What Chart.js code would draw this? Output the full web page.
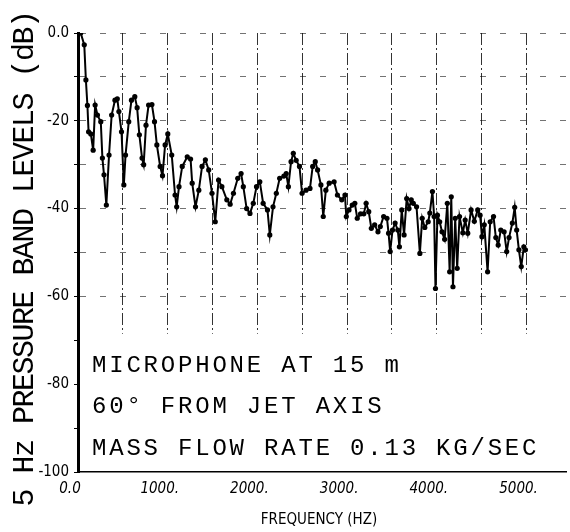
<!DOCTYPE html>
<html>
<head>
<meta charset="utf-8">
<script src="https://cdn.jsdelivr.net/npm/chart.js@4.4.1/dist/chart.umd.min.js"></script>
<style>
    html, body { margin: 0; padding: 0; background: #fff; }
    #wrap { width: 570px; height: 532px; }
</style>
</head>
<body>
<div id="wrap"><canvas id="spectrum"></canvas></div>
<script>
// 5 Hz band levels (frequency in Hz, level in dB)
const freqHz = [
    30, 70, 88, 105, 118, 143, 169, 191, 217, 254, 272, 290, 316, 346, 375, 412, 438, 456, 485, 511,
    530, 566, 596, 633, 659, 684, 714, 732, 758, 787, 824, 853, 879, 916, 942, 971, 1001, 1045, 1082, 1100,
    1126, 1162, 1218, 1255, 1273, 1310, 1347, 1383, 1420, 1457, 1494, 1530, 1567, 1604, 1659, 1696, 1733, 1781, 1818, 1843,
    1880, 1917, 1954, 1990, 2027, 2064, 2112, 2138, 2174, 2211, 2248, 2295, 2321, 2345, 2375, 2400, 2432, 2469, 2498, 2542,
    2586, 2616, 2645, 2671, 2708, 2734, 2763, 2800, 2855, 2892, 2940, 2976, 2991, 3021, 3057, 3086, 3113, 3150, 3186, 3212,
    3241, 3270, 3307, 3344, 3370, 3407, 3444, 3462, 3480, 3506, 3535, 3565, 3583, 3609, 3635, 3664, 3690, 3715, 3738, 3774,
    3811, 3837, 3866, 3904, 3922, 3951, 3970, 3985, 4007, 4032, 4058, 4087, 4117, 4143, 4161, 4180, 4205, 4227, 4253, 4290,
    4316, 4345, 4382, 4418, 4456, 4482, 4503, 4529, 4566, 4595, 4632, 4658, 4684, 4713, 4750, 4779, 4805, 4842, 4868, 4890,
    4915, 4941, 4970, 4988
];
const levelDb = [
    0, -2.7, -10.7, -16.5, -22.5, -23, -26.7, -16.4, -18.7, -20.2, -28.5, -32.3, -39.2, -27.8, -18.7, -15.3, -15, -17.9, -22.5, -34.6,
    -27.8, -20.2, -15.3, -14.5, -17, -23.2, -28.5, -30, -21, -16.4, -16.3, -20.2, -25.5, -30.4, -32.5, -25.5, -23, -27.8, -36.9, -39.6,
    -35, -30.4, -28.2, -28.7, -34.2, -39.6, -35.8, -30.4, -28.9, -31.2, -36.5, -43, -33.5, -35, -38, -39, -36.5, -33.1, -32, -35,
    -40, -41.1, -38.8, -35, -33.9, -38.8, -40.3, -46, -39.6, -36.5, -33.1, -32.6, -32, -35, -29.3, -27.4, -29, -30.4, -36.5, -35.8,
    -35.4, -30.4, -29.3, -31.2, -34.6, -41.8, -35.8, -34.2, -33.9, -36.9, -38, -36.9, -41.8, -40.3, -39.2, -38.8, -42.2, -41.2, -41.2, -38.8,
    -40.7, -44.5, -43.7, -45.3, -44.1, -41.8, -42.2, -45.6, -49.8, -44.9, -43.3, -44.9, -48.7, -40.3, -46, -37.7, -40, -38, -38.8, -39.6,
    -50.2, -42.2, -44.3, -43, -41, -36.1, -41.8, -58.2, -41.5, -43, -45.3, -47, -38.8, -54.4, -37.3, -57.8, -42.2, -53.6, -41.8, -45.5,
    -42.6, -45.6, -40.3, -42.9, -40.3, -41.5, -46.4, -43.7, -54.4, -43, -41.8, -46.6, -48.3, -44.9, -45.3, -49.8, -46.6, -43.3, -39.7, -44.9,
    -49.4, -53.2, -48.7, -49.4
];

// axes
const freqTicks = [0, 500, 1000, 1500, 2000, 2500, 3000, 3500, 4000, 4500, 5000];
const freqLabels = { 0: '0.0', 1000: '1000.', 2000: '2000.', 3000: '3000.', 4000: '4000.', 5000: '5000.' };
const dbTicks = [-100, -90, -80, -70, -60, -50, -40, -30, -20, -10, 0];
const dbLabels = { 0: '0.0', '-20': '-20', '-40': '-40', '-60': '-60', '-80': '-80', '-100': '-100' };

const yTitle = '5 Hz PRESSURE BAND LEVELS (dB)';
const xTitle = 'FREQUENCY (HZ)';
const noteLines = ['MICROPHONE AT 15 m', '60\u00B0 FROM JET AXIS', 'MASS FLOW RATE 0.13 KG/SEC'];

const narrowFont = '"Liberation Sans Narrow", "DejaVu Sans Condensed", "Liberation Sans", sans-serif';
const monoFont = '"Courier New", "Liberation Mono", monospace';

// grid lines stop above the text block, so blank that part out
const gridCutDb = -68.5;

const maskPlugin = {
    id: 'gridMask',
    beforeDatasetsDraw(chart) {
        const { ctx, chartArea, scales } = chart;
        const top = scales.y.getPixelForValue(gridCutDb);
        ctx.save();
        ctx.fillStyle = '#fff';
        ctx.fillRect(chartArea.left + 2, top, chartArea.right - chartArea.left - 2, chartArea.bottom - top - 1);
        ctx.restore();
    }
};

const textPlugin = {
    id: 'plotText',
    afterDraw(chart) {
        const { ctx } = chart;
        ctx.save();
        ctx.fillStyle = '#000';

        // y title, rotated
        ctx.font = '30px ' + monoFont;
        ctx.letterSpacing = '-1.5px';
        ctx.textAlign = 'center';
        ctx.textBaseline = 'alphabetic';
        ctx.translate(33, 259);
        ctx.rotate(-Math.PI / 2);
        ctx.fillText(yTitle, 0, 0);
        ctx.setTransform(1, 0, 0, 1, 0, 0);

        // x title
        ctx.letterSpacing = '0px';
        ctx.font = '15px ' + narrowFont;
        ctx.textAlign = 'center';
        ctx.textBaseline = 'middle';
        ctx.fillText(xTitle, 319, 520);

        // note block
        ctx.font = '24px ' + monoFont;
        ctx.letterSpacing = '2.8px';
        ctx.textAlign = 'left';
        ctx.textBaseline = 'alphabetic';
        const baselines = [372, 413, 455];
        noteLines.forEach((line, i) => ctx.fillText(line, 92, baselines[i]));
        ctx.restore();
    }
};

new Chart(document.getElementById('spectrum'), {
    type: 'line',
    data: {
        datasets: [{
            data: freqHz.map((f, i) => ({ x: f, y: levelDb[i] })),
            borderColor: '#000',
            backgroundColor: '#000',
            borderWidth: 2,
            pointRadius: 2.6,
            pointBorderWidth: 0,
            tension: 0
        }]
    },
    options: {
        responsive: true,
        maintainAspectRatio: false,
        animation: false,
        layout: { padding: { top: 33, right: 0, bottom: 0, left: 0 } },
        plugins: { legend: { display: false }, tooltip: { enabled: false } },
        scales: {
            x: {
                type: 'linear',
                min: 0,
                max: 5440,
                afterBuildTicks: scale => { scale.ticks = freqTicks.map(v => ({ value: v })); },
                afterFit: scale => { scale.height = 60; },
                grid: {
                    color: c => c.tick && c.tick.value === 0 ? 'rgba(0,0,0,0)' : 'rgba(0,0,0,0.8)',
                    lineWidth: 1,
                    drawTicks: false
                },
                // border.dash styles the grid lines in v4; the axis line stays solid
                border: { display: true, color: '#000', width: 1.5, dash: [12, 3, 2, 3] },
                ticks: {
                    autoSkip: false,
                    maxRotation: 0,
                    padding: 8,
                    labelOffset: -8,
                    color: '#000',
                    font: { family: narrowFont, size: 15, style: 'italic' },
                    callback: v => freqLabels[v] || ''
                }
            },
            y: {
                type: 'linear',
                min: -100,
                max: 0,
                afterBuildTicks: scale => { scale.ticks = dbTicks.map(v => ({ value: v })); },
                afterFit: scale => { scale.width = 78; },
                grid: {
                    color: c => c.tick && c.tick.value === -100 ? 'rgba(0,0,0,0)' : 'rgba(0,0,0,0.55)',
                    lineWidth: 1,
                    tickLength: 4,
                    tickColor: '#000'
                },
                border: { display: true, color: '#000', width: 3, dash: [6, 14] },
                ticks: {
                    autoSkip: false,
                    padding: 5,
                    color: '#000',
                    font: { family: narrowFont, size: 15 },
                    callback: v => dbLabels[v] || ''
                }
            }
        }
    },
    plugins: [maskPlugin, textPlugin]
});
</script>
</body>
</html>
